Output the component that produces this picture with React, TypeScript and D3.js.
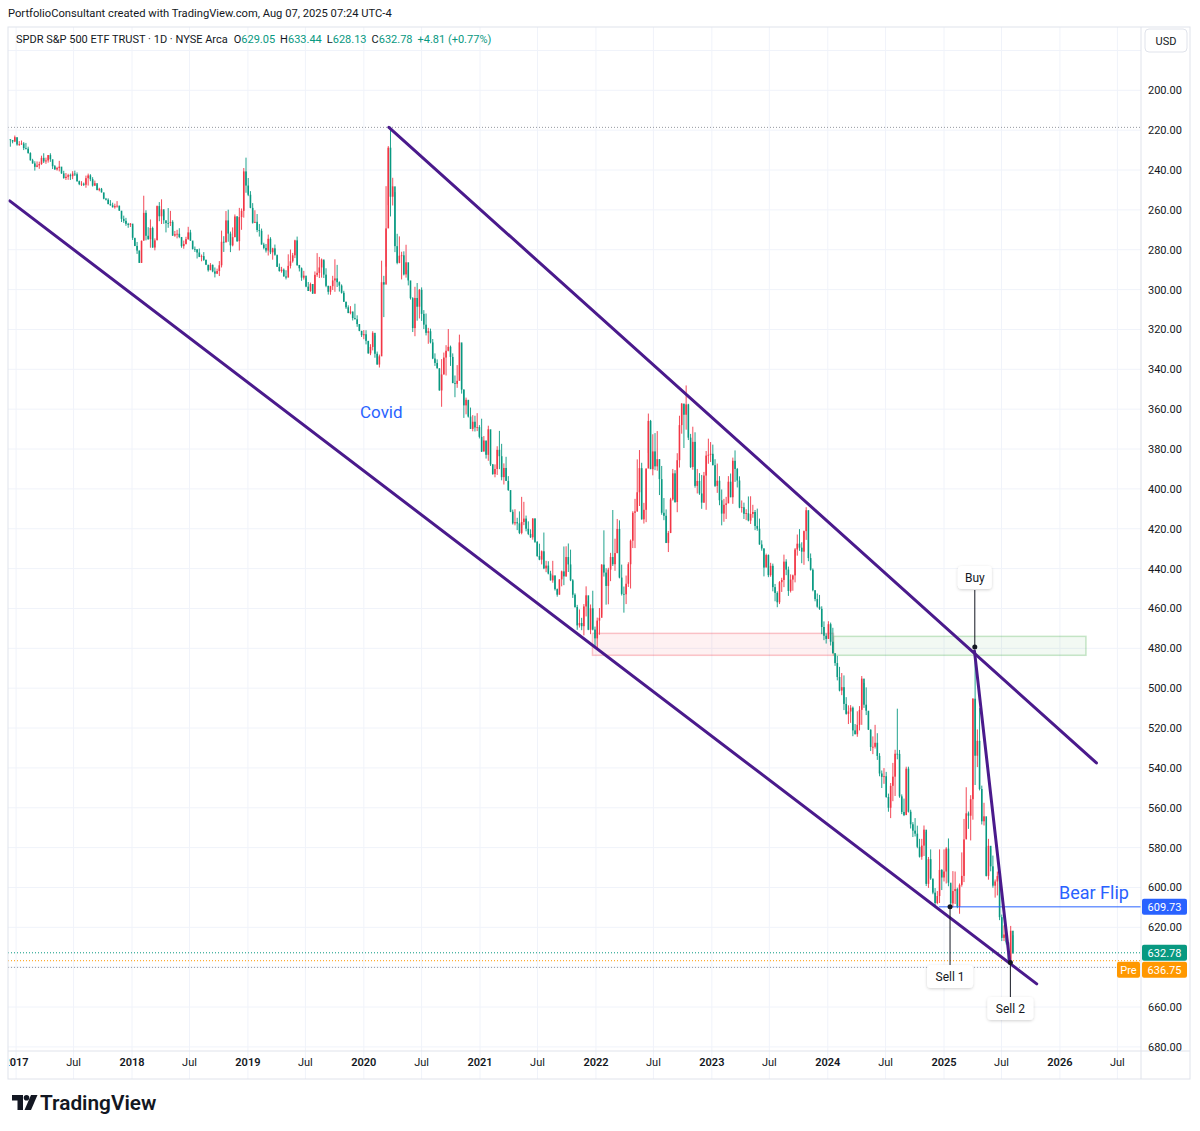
import React from "react";
import * as d3 from "d3";

// SPY weekly candles: [close, high, low]; each open is the prior close
const firstOpen = 224.6;
const weeks2016 = [[225.0, 228.3, 224.6], [225.7, 226.6, 224.9], [223.5, 226.0, 222.7]];
const weeks2017 = [
  [227.2, 227.8, 223.9], [227.0, 227.9, 225.5], [226.7, 227.4, 225.2], [229.0, 230.0, 226.0],
  [229.3, 229.7, 226.4], [231.5, 231.8, 228.3], [235.1, 235.3, 231.1], [236.7, 236.8, 234.4],
  [238.4, 240.3, 235.6], [237.7, 238.6, 235.7], [237.0, 239.4, 235.8], [233.9, 237.4, 232.8], [235.7, 236.5, 231.6],
  [235.2, 236.9, 233.8], [232.5, 236.3, 232.5], [234.6, 235.9, 231.6], [238.1, 239.5, 236.8],
  [239.7, 239.9, 237.5], [239.0, 240.3, 238.4], [238.3, 240.7, 235.4], [241.7, 241.9, 238.9],
  [244.0, 244.4, 240.4], [243.4, 245.0, 241.5], [242.6, 244.9, 241.9], [243.1, 245.0, 241.8], [241.8, 244.6, 240.6],
  [242.1, 243.0, 240.3], [245.6, 245.9, 241.2], [247.1, 247.6, 245.3], [246.9, 248.0, 245.6],
  [247.4, 248.0, 246.3], [244.1, 248.9, 242.8], [242.7, 247.8, 241.8], [244.6, 245.6, 242.1],
  [247.8, 248.3, 243.6], [246.6, 248.0, 245.3], [250.1, 250.1, 247.6], [249.4, 250.7, 248.9], [251.2, 251.3, 249.0],
  [254.4, 254.7, 251.6], [254.9, 255.3, 254.0], [257.1, 257.2, 254.2], [257.7, 257.9, 255.1],
  [258.7, 258.8, 256.4], [258.1, 259.4, 256.9], [257.9, 258.9, 255.6], [260.4, 260.5, 257.9],
  [264.5, 266.1, 260.6], [265.5, 266.5, 262.9], [267.0, 268.0, 264.0], [267.5, 269.0, 266.5], [266.9, 268.6, 266.6],
];
const weeks2018 = [
  [274.0, 275.1, 267.9], [278.1, 278.2, 274.4], [280.4, 282.1, 276.1], [286.6, 286.6, 280.4],
  [275.5, 286.6, 275.4], [261.5, 275.0, 252.9], [273.0, 275.3, 260.2], [274.7, 275.0, 268.7],
  [269.1, 279.0, 264.8], [278.9, 279.0, 268.4], [275.3, 280.3, 274.3], [258.1, 275.1, 257.8], [263.2, 265.7, 256.1],
  [259.7, 267.1, 254.7], [265.2, 267.0, 260.6], [266.6, 271.3, 265.9], [266.6, 269.0, 259.1],
  [266.0, 268.1, 260.5], [272.9, 273.1, 265.2], [272.2, 273.5, 270.6], [272.0, 274.3, 270.0],
  [273.6, 274.2, 269.2], [278.2, 279.0, 273.9], [277.1, 279.5, 275.4], [274.7, 277.4, 273.5], [271.3, 275.0, 268.5],
  [275.4, 275.6, 270.0], [279.6, 279.9, 276.1], [279.7, 281.1, 278.4], [281.4, 284.4, 280.1],
  [283.6, 283.7, 279.4], [283.2, 285.8, 282.4], [285.1, 285.6, 281.2], [287.5, 287.7, 284.9], [290.3, 291.0, 288.0],
  [287.6, 290.2, 286.7], [290.9, 291.3, 287.4], [292.0, 293.9, 288.9], [290.7, 292.2, 289.5],
  [287.8, 293.2, 285.7], [276.0, 288.9, 270.4], [276.3, 281.1, 273.2], [265.3, 276.3, 260.6],
  [271.9, 276.0, 259.9], [277.8, 281.2, 270.9], [273.7, 278.3, 268.8], [263.3, 273.7, 262.3], [275.7, 276.1, 263.1],
  [263.6, 280.4, 259.0], [260.5, 270.0, 259.3], [240.7, 263.9, 239.0], [247.8, 251.4, 233.8],
];
const weeks2019 = [
  [252.4, 253.1, 244.0], [259.0, 259.2, 250.6], [266.5, 266.9, 256.6], [266.0, 266.6, 260.2],
  [270.1, 271.2, 262.1], [270.5, 273.4, 267.1], [277.4, 277.4, 269.4], [279.1, 279.8, 276.5],
  [280.4, 281.4, 277.1], [274.5, 282.9, 272.4], [281.3, 282.2, 273.7], [279.3, 285.0, 279.0], [282.5, 283.0, 277.4],
  [288.6, 288.6, 283.3], [290.7, 291.0, 286.9], [290.0, 291.5, 288.6], [293.4, 293.5, 289.4],
  [294.0, 294.9, 290.3], [288.1, 291.3, 282.3], [285.8, 289.4, 279.9], [282.8, 286.5, 281.6], [275.3, 284.2, 275.0],
  [287.7, 288.1, 273.4], [289.3, 290.9, 287.6], [294.0, 295.6, 288.9], [293.0, 295.0, 290.6],
  [298.5, 298.8, 294.4], [300.7, 300.7, 296.2], [297.2, 301.1, 296.5], [302.0, 302.2, 297.2],
  [292.6, 302.2, 290.9], [291.6, 293.6, 281.7], [288.9, 294.2, 283.6], [284.9, 294.0, 284.4], [292.5, 294.2, 285.6],
  [298.1, 298.8, 289.3], [301.1, 302.5, 298.1], [298.3, 302.6, 298.1], [295.4, 300.2, 293.1],
  [294.4, 301.1, 284.8], [296.3, 298.7, 287.6], [298.0, 301.0, 295.9], [301.6, 302.0, 297.4],
  [306.1, 306.2, 300.6], [308.9, 309.7, 306.1], [311.8, 311.8, 307.9], [311.0, 312.4, 308.3], [314.3, 315.5, 311.1],
  [314.9, 314.9, 307.1], [317.3, 318.7, 312.9], [320.7, 320.9, 317.5], [322.9, 323.8, 320.7],
];
const weeks2020 = [
  [322.4, 324.9, 320.3], [325.7, 327.5, 320.4], [332.0, 332.2, 325.9], [328.8, 332.9, 327.4], [321.7, 330.5, 320.9],
  [332.2, 334.2, 323.0], [337.6, 337.7, 331.1], [333.5, 339.1, 332.6], [296.3, 331.8, 285.5],
  [297.5, 313.8, 293.1], [269.3, 288.5, 248.1], [228.8, 257.6, 228.0], [253.4, 263.3, 218.3],
  [248.2, 257.8, 243.9], [278.2, 281.2, 251.1], [286.6, 287.3, 272.0], [283.0, 286.8, 273.3],
  [282.8, 294.9, 281.0], [292.4, 292.9, 280.8], [286.3, 294.0, 277.5], [295.4, 297.9, 290.2], [304.3, 305.0, 298.9],
  [319.3, 321.3, 303.8], [304.2, 323.4, 298.6], [308.6, 315.6, 296.7], [300.1, 314.5, 299.7],
  [312.2, 315.7, 298.9], [317.6, 319.8, 310.3], [321.7, 323.0, 312.0], [320.9, 327.2, 319.2], [326.5, 327.0, 319.6],
  [334.6, 334.9, 324.8], [336.8, 338.3, 332.0], [339.5, 339.6, 335.0], [350.6, 350.7, 339.5],
  [342.6, 358.8, 334.9], [334.1, 342.6, 331.6], [330.7, 343.1, 327.9], [328.7, 331.0, 319.8],
  [333.8, 338.3, 328.1], [346.9, 347.0, 332.0], [347.3, 354.0, 343.1], [345.8, 349.3, 337.9], [326.5, 342.9, 322.6],
  [350.2, 352.2, 327.2], [358.1, 364.4, 350.0], [355.3, 362.6, 354.2], [363.7, 364.2, 356.0],
  [369.9, 369.9, 359.2], [366.3, 371.1, 363.0], [369.2, 371.2, 363.3], [369.0, 371.0, 362.0],
];
const weeks2021 = [
  [373.9, 374.7, 368.0], [381.3, 381.5, 364.8], [375.7, 381.1, 373.5], [382.9, 384.8, 376.0], [370.1, 385.9, 368.3],
  [387.7, 388.5, 371.9], [392.6, 392.9, 387.5], [390.0, 394.2, 387.7], [380.4, 393.0, 378.6],
  [383.6, 390.1, 370.9], [394.1, 395.7, 377.4], [389.5, 397.8, 387.2], [396.0, 396.0, 383.9],
  [400.6, 401.0, 393.6], [411.5, 411.7, 403.4], [417.3, 417.9, 410.4], [416.7, 418.3, 410.2], [417.3, 420.7, 414.5],
  [422.1, 422.7, 411.3], [416.6, 422.8, 404.0], [414.9, 418.2, 406.5], [420.0, 421.3, 413.4],
  [422.6, 423.2, 416.3], [424.3, 424.6, 420.3], [414.9, 425.5, 414.7], [426.6, 427.1, 414.7],
  [433.7, 434.1, 426.2], [435.5, 435.8, 427.5], [431.3, 437.9, 430.9], [439.9, 440.3, 421.9], [438.5, 441.8, 436.1],
  [442.5, 442.9, 436.3], [445.9, 446.0, 441.1], [443.4, 447.1, 436.1], [450.3, 451.0, 443.6],
  [453.1, 454.1, 450.0], [445.4, 453.0, 445.4], [441.4, 448.9, 441.0], [443.9, 448.3, 428.9],
  [434.2, 444.1, 428.8], [437.9, 441.7, 427.4], [445.9, 446.3, 430.5], [453.1, 454.7, 445.3], [459.3, 459.6, 452.4],
  [468.5, 470.7, 458.2], [467.3, 469.6, 460.5], [468.9, 470.9, 464.7], [459.0, 473.5, 457.8],
  [453.4, 464.0, 448.9], [470.7, 470.9, 456.3], [459.9, 472.9, 458.0], [470.6, 471.0, 451.1], [475.0, 479.0, 469.1],
];
const weeks2022 = [
  [466.1, 480.0, 464.6], [464.7, 473.2, 459.8], [438.0, 463.0, 437.8], [442.0, 444.0, 420.8],
  [448.7, 458.1, 439.8], [440.5, 457.9, 439.6], [434.2, 446.3, 432.1], [437.8, 438.7, 410.6],
  [432.2, 441.1, 425.0], [420.1, 432.3, 415.1], [444.5, 444.9, 415.8], [452.7, 453.5, 438.0],
  [452.9, 462.1, 449.0], [447.6, 457.8, 443.5], [437.8, 449.2, 436.8], [426.0, 450.0, 425.4], [412.0, 429.7, 411.2],
  [411.3, 429.7, 405.0], [401.7, 411.5, 385.2], [389.6, 408.6, 380.5], [415.3, 415.4, 386.9],
  [410.5, 417.4, 407.0], [389.8, 416.7, 389.8], [365.9, 382.0, 362.2], [390.1, 390.1, 365.4],
  [381.2, 393.2, 372.6], [388.7, 390.6, 372.0], [385.1, 390.9, 371.0], [395.1, 403.1, 385.2], [412.0, 413.0, 388.5],
  [413.5, 415.7, 404.6], [427.1, 427.2, 410.3], [422.1, 431.7, 421.1], [405.3, 422.2, 404.5],
  [392.2, 405.9, 390.0], [406.6, 407.0, 390.6], [385.6, 411.7, 382.1], [368.0, 389.3, 363.3], [357.2, 372.3, 357.0],
  [362.8, 379.5, 357.5], [357.6, 370.3, 348.1], [374.3, 375.5, 357.3], [389.0, 389.5, 372.4],
  [376.4, 390.4, 368.8], [398.5, 399.4, 371.6], [396.0, 402.3, 390.0], [402.3, 403.0, 392.1],
  [406.9, 410.0, 393.0], [393.3, 407.0, 391.5], [383.3, 410.5, 381.0], [382.9, 387.4, 374.8], [382.4, 386.5, 376.5],
];
const weeks2023 = [
  [388.1, 388.2, 377.8], [398.5, 399.1, 385.1], [395.9, 402.0, 387.3], [405.7, 408.2, 393.6],
  [412.4, 418.3, 400.3], [408.0, 416.5, 405.0], [407.3, 415.1, 404.0], [396.4, 404.2, 393.6],
  [404.2, 404.2, 392.3], [385.9, 407.5, 384.3], [390.0, 396.5, 380.7], [395.8, 399.3, 389.5], [409.4, 409.7, 393.7],
  [409.2, 411.9, 405.8], [412.5, 415.1, 406.9], [412.2, 415.7, 410.2], [415.9, 416.3, 403.8],
  [412.6, 417.6, 403.7], [411.6, 414.5, 408.0], [418.6, 420.7, 410.6], [420.0, 421.0, 409.9],
  [427.9, 428.0, 414.9], [429.9, 431.0, 425.8], [439.5, 443.9, 429.8], [433.2, 439.1, 432.5], [443.3, 444.3, 432.9],
  [438.6, 444.1, 437.1], [449.3, 451.4, 437.5], [452.2, 456.4, 447.7], [456.9, 459.4, 451.4],
  [446.8, 457.8, 446.3], [445.7, 451.7, 444.6], [436.5, 449.3, 433.0], [440.5, 443.3, 435.3],
  [451.2, 453.7, 439.0], [445.5, 452.0, 442.9], [443.4, 451.1, 443.0], [430.4, 446.9, 429.7], [427.5, 433.5, 422.9],
  [429.5, 431.1, 420.2], [431.5, 437.3, 426.8], [421.2, 438.1, 420.9], [410.7, 425.6, 409.2],
  [434.7, 436.3, 410.9], [440.6, 441.0, 432.4], [450.8, 451.4, 439.9], [455.3, 456.4, 451.0],
  [459.1, 459.6, 452.5], [460.2, 460.7, 453.2], [469.3, 472.9, 458.9], [473.7, 475.9, 466.5], [475.3, 477.6, 472.5],
];
const weeks2024 = [
  [467.9, 474.8, 466.4], [476.7, 478.6, 467.1], [482.4, 482.7, 469.7], [487.4, 488.8, 483.0],
  [494.4, 496.1, 483.8], [501.2, 501.6, 489.3], [499.5, 503.5, 492.4], [507.9, 511.0, 493.6],
  [512.9, 513.3, 504.5], [511.7, 518.0, 508.6], [509.8, 517.4, 508.5], [521.2, 524.1, 509.2], [523.1, 523.2, 518.0],
  [518.4, 524.4, 511.6], [510.9, 521.2, 509.0], [495.2, 518.4, 493.9], [508.3, 509.9, 497.4],
  [511.3, 513.5, 499.6], [520.8, 521.0, 512.1], [529.5, 531.5, 520.7], [529.4, 533.1, 524.2], [527.4, 530.3, 518.4],
  [534.0, 536.0, 522.6], [542.8, 544.2, 532.6], [544.5, 550.1, 541.3], [544.2, 548.0, 540.1],
  [554.6, 555.0, 542.0], [560.0, 562.0, 552.9], [549.0, 565.2, 547.6], [544.4, 556.7, 537.5],
  [532.9, 554.1, 530.9], [533.0, 535.7, 510.3], [554.3, 555.0, 531.0], [562.1, 563.2, 553.3], [563.7, 564.2, 555.4],
  [540.4, 563.0, 539.4], [562.0, 562.4, 539.4], [568.3, 570.4, 561.0], [571.5, 574.7, 567.2],
  [573.0, 574.4, 565.2], [579.6, 580.3, 569.0], [584.6, 585.0, 575.6], [579.0, 586.1, 575.6],
  [571.0, 584.2, 568.9], [598.2, 599.3, 572.2], [585.8, 600.2, 584.7], [595.5, 596.2, 580.9], [602.6, 603.4, 596.0],
  [607.8, 609.1, 600.3], [604.3, 608.4, 601.8], [591.2, 607.8, 580.9], [595.0, 601.3, 590.8],
];
const weeks2025 = [
  [592.0, 597.0, 580.9], [580.5, 598.0, 579.8], [597.6, 599.4, 575.4], [608.0, 610.8, 598.4], [601.8, 610.0, 591.8],
  [600.8, 608.3, 592.0], [609.7, 610.4, 600.1], [598.7, 613.2, 598.0], [594.2, 599.6, 582.4],
  [575.9, 597.3, 565.6], [562.8, 575.3, 549.7], [564.0, 570.6, 561.9], [555.7, 576.4, 553.7],
  [505.3, 566.0, 505.0], [533.9, 548.6, 481.8], [526.4, 539.6, 520.7], [550.6, 551.3, 510.0],
  [566.8, 568.4, 548.9], [564.3, 568.9, 557.5], [594.2, 594.5, 579.8], [579.1, 596.1, 575.6], [589.4, 591.9, 580.6],
  [599.1, 600.1, 584.0], [597.0, 605.1, 596.0], [594.3, 604.0, 592.0], [614.9, 616.4, 594.6],
  [625.3, 626.9, 613.6], [623.6, 626.9, 619.0], [627.6, 628.6, 619.5], [637.1, 637.6, 627.3],
  [621.7, 638.7, 619.3], [632.8, 633.4, 624.0],
];
// first Friday of each block
const blocks: [string, number[][]][] = [
  ["2016-12-16", weeks2016], ["2017-01-06", weeks2017], ["2018-01-05", weeks2018],
  ["2019-01-04", weeks2019], ["2020-01-03", weeks2020], ["2021-01-01", weeks2021],
  ["2022-01-07", weeks2022], ["2023-01-06", weeks2023], ["2024-01-05", weeks2024],
  ["2025-01-03", weeks2025],
];

const priceTicks = [180, 200, 220, 240, 260, 280, 300, 320, 340, 360, 380, 400, 420, 440, 460, 480, 500, 520, 540, 560, 580, 600, 620, 640, 660, 680];
const timeTicks = [
  ["2017-01-01", "2017"], ["2017-07-01", "Jul"], ["2018-01-01", "2018"], ["2018-07-01", "Jul"],
  ["2019-01-01", "2019"], ["2019-07-01", "Jul"], ["2020-01-01", "2020"], ["2020-07-01", "Jul"],
  ["2021-01-01", "2021"], ["2021-07-01", "Jul"], ["2022-01-01", "2022"], ["2022-07-01", "Jul"],
  ["2023-01-01", "2023"], ["2023-07-01", "Jul"], ["2024-01-01", "2024"], ["2024-07-01", "Jul"],
  ["2025-01-01", "2025"], ["2025-07-01", "Jul"], ["2026-01-01", "2026"], ["2026-07-01", "Jul"],
];

// drawings on the chart: [date, price] pairs
const trendLines = [
  [["2016-12-12", 255.5], ["2025-10-20", 648.4]],
  [["2020-03-20", 218.6], ["2026-04-26", 537.5]],
  [["2025-04-07", 481.4], ["2025-07-27", 637.7]],
];
const redZone = { from: "2021-12-21", to: "2024-01-19", top: 472.5, bottom: 483.5 };
const greenZone = { from: "2024-01-19", to: "2026-03-24", top: 474.0, bottom: 483.5 };
const buyPoint = ["2025-04-08", 479.4];
const sell1Point = ["2025-01-20", 609.73];
const sell2Point = ["2025-07-29", 637.6];
const bearFlip = { from: "2024-12-16", price: 609.73 };
const covidLow = 218.6;
const visibleHigh = 640.1;
const lastClose = 632.78;
const preMarket = 636.75;

const UP = "#089981";
const DOWN = "#f23645";
const PURPLE = "#4a1a8c";
const BLUE = "#2962ff";
const TEXT = "#131722";
const GRID = "#f0f3fa";
const FONT = "Roboto, 'Noto Sans', sans-serif";

const PL = 8, PR = 1141, PT = 27, PB = 1051, AR = 1190, AB = 1079;

const parse = d3.timeParse("%Y-%m-%d");
const day = 86400000;

export default function App() {
  const x = d3.scaleTime().domain([parse("2018-01-01")!, parse("2025-01-01")!]).range([132, 944]);
  const y = d3.scaleLinear().domain([200, 680]).range([90.3, 1046.9]);

  const candles: { t: Date; o: number; c: number; h: number; l: number }[] = [];
  let prev = firstOpen;
  blocks.forEach(([start, rows]) => {
    const s = parse(start)!.getTime();
    rows.forEach(([c, h, l], i) => {
      candles.push({ t: new Date(s + i * 7 * day - 2 * day), o: prev, c, h, l });
      prev = c;
    });
  });

  const px = (d: string) => x(parse(d)!);
  const markerYs = [y(bearFlip.price), y(lastClose), y(preMarket) + 8];

  const callout = (cx: number, top: number, label: string, w: number) => (
    <g>
      <rect x={cx - w / 2} y={top} width={w} height={23} rx={4} fill="#fff" filter="url(#shadow)" />
      <text x={cx} y={top + 16} textAnchor="middle" fontSize={12} fill={TEXT}>{label}</text>
    </g>
  );

  const buyX = px(buyPoint[0] as string), buyY = y(buyPoint[1] as number);
  const s1X = px(sell1Point[0] as string), s1Y = y(sell1Point[1] as number);
  const s2X = px(sell2Point[0] as string), s2Y = y(sell2Point[1] as number);

  return (
    <svg width={1200} height={1131} style={{ position: "absolute", left: 0, top: 0, background: "#fff" }} fontFamily={FONT}>
      <defs>
        <clipPath id="plot"><rect x={PL} y={PT} width={PR - PL} height={PB - PT} /></clipPath>
        <clipPath id="taxis"><rect x={PL + 1} y={PB} width={PR - PL - 1} height={AB - PB} /></clipPath>
        <filter id="shadow" x="-30%" y="-30%" width="160%" height="180%">
          <feDropShadow dx="0" dy="1" stdDeviation="1.5" floodColor="#000" floodOpacity="0.18" />
        </filter>
      </defs>
      <rect width={1200} height={1131} fill="#fff" />
      <text x={8} y={17} fontSize={11.2} fill={TEXT}>PortfolioConsultant created with TradingView.com, Aug 07, 2025 07:24 UTC-4</text>

      {/* grid */}
      <g clipPath="url(#plot)">
        {priceTicks.map((p) => (
          <line key={p} x1={PL} x2={PR} y1={y(p)} y2={y(p)} stroke={GRID} />
        ))}
        {timeTicks.map(([d]) => (
          <line key={d} x1={px(d)} x2={px(d)} y1={PT} y2={PB} stroke={GRID} />
        ))}
      </g>
      {timeTicks.map(([d]) => (
        <line key={"t" + d} x1={px(d)} x2={px(d)} y1={PB} y2={AB} stroke={GRID} clipPath="url(#taxis)" />
      ))}

      <g clipPath="url(#plot)">
        {/* zones */}
        <rect x={px(redZone.from)} y={y(redZone.top)} width={px(redZone.to) - px(redZone.from)}
          height={y(redZone.bottom) - y(redZone.top)} fill="rgba(242,54,69,0.07)" stroke="rgba(242,54,69,0.28)" strokeWidth={1.5} />
        <rect x={px(greenZone.from)} y={y(greenZone.top)} width={px(greenZone.to) - px(greenZone.from)}
          height={y(greenZone.bottom) - y(greenZone.top)} fill="rgba(76,175,80,0.07)" stroke="rgba(76,175,80,0.3)" strokeWidth={1.5} />

        {/* dotted price lines */}
        <line x1={PL} x2={PR} y1={y(covidLow)} y2={y(covidLow)} stroke="#9598a1" strokeDasharray="1 2" />
        <line x1={PL} x2={PR} y1={y(visibleHigh)} y2={y(visibleHigh)} stroke="#9598a1" strokeDasharray="1 2" />
        <line x1={PL} x2={PR} y1={y(lastClose)} y2={y(lastClose)} stroke={UP} strokeDasharray="1 2" />
        <line x1={PL} x2={PR} y1={y(preMarket)} y2={y(preMarket)} stroke="#ff9800" strokeDasharray="1 2" />

        {/* candles */}
        {candles.map((k, i) => {
          const cx = x(k.t);
          const col = k.c >= k.o ? UP : DOWN;
          const y0 = y(Math.min(k.o, k.c)), y1 = y(Math.max(k.o, k.c));
          return (
            <g key={i}>
              <line x1={cx} x2={cx} y1={y(k.l)} y2={y(k.h)} stroke={col} strokeWidth={0.9} />
              <rect x={cx - 0.8} y={y0} width={1.6} height={Math.max(0.8, y1 - y0)} fill={col} />
            </g>
          );
        })}

        {/* bear flip line */}
        <line x1={px(bearFlip.from)} x2={PR} y1={y(bearFlip.price)} y2={y(bearFlip.price)} stroke={BLUE} strokeWidth={1} />

        {/* trend lines */}
        {trendLines.map((ln, i) => (
          <line key={i} x1={px(ln[0][0] as string)} y1={y(ln[0][1] as number)} x2={px(ln[1][0] as string)} y2={y(ln[1][1] as number)}
            stroke={PURPLE} strokeWidth={3} strokeLinecap="round" />
        ))}

        {/* callouts */}
        <line x1={buyX} x2={buyX} y1={buyY} y2={590} stroke={TEXT} />
        <circle cx={buyX} cy={buyY} r={2.5} fill={TEXT} />
        {callout(buyX, 566, "Buy", 34)}
        <line x1={s1X} x2={s1X} y1={s1Y} y2={966} stroke={TEXT} />
        <circle cx={s1X} cy={s1Y} r={2.5} fill={TEXT} />
        {callout(s1X, 965, "Sell 1", 46)}
        <line x1={s2X} x2={s2X} y1={s2Y} y2={998} stroke={TEXT} />
        <circle cx={s2X} cy={s2Y} r={2.5} fill={TEXT} />
        {callout(s2X, 997, "Sell 2", 46)}

        <text x={360} y={418} fontSize={17} fill={BLUE}>Covid</text>
        <text x={1059} y={899} fontSize={18} fill={BLUE}>Bear Flip</text>
      </g>

      {/* legend */}
      <text x={16} y={43} fontSize={11} fill={TEXT}>
        <tspan>SPDR S&amp;P 500 ETF TRUST · 1D · NYSE Arca</tspan>
        <tspan dx={6}>O</tspan><tspan fill={UP}>629.05</tspan>
        <tspan dx={5}>H</tspan><tspan fill={UP}>633.44</tspan>
        <tspan dx={5}>L</tspan><tspan fill={UP}>628.13</tspan>
        <tspan dx={5}>C</tspan><tspan fill={UP}>632.78</tspan>
        <tspan dx={5} fill={UP}>+4.81 (+0.77%)</tspan>
      </text>

      {/* frame */}
      <rect x={PL} y={PT} width={AR - PL} height={AB - PT} fill="none" stroke="#e0e3eb" />
      <line x1={PR} x2={PR} y1={PT} y2={AB} stroke="#e0e3eb" />
      <line x1={PL} x2={AR} y1={PB} y2={PB} stroke="#e0e3eb" />

      {/* price axis */}
      {priceTicks
        .filter((p) => y(p) > 60 && markerYs.every((m) => Math.abs(m - y(p)) > 13))
        .map((p) => (
          <text key={p} x={1148} y={y(p) + 4} fontSize={11} fill={TEXT}>{p.toFixed(2)}</text>
        ))}
      <rect x={1145} y={29} width={42} height={23} rx={4} fill="#fff" stroke="#e0e3eb" />
      <text x={1166} y={45} textAnchor="middle" fontSize={11} fill={TEXT}>USD</text>

      <rect x={1142} y={y(bearFlip.price) - 8} width={45} height={16} rx={2} fill={BLUE} />
      <text x={1164.5} y={y(bearFlip.price) + 4} textAnchor="middle" fontSize={11} fill="#fff">{bearFlip.price.toFixed(2)}</text>
      <rect x={1142} y={y(lastClose) - 8} width={45} height={16} rx={2} fill={UP} />
      <text x={1164.5} y={y(lastClose) + 4} textAnchor="middle" fontSize={11} fill="#fff">{lastClose.toFixed(2)}</text>
      <rect x={1142} y={y(preMarket) + 1} width={45} height={16} rx={2} fill="#ff9800" />
      <text x={1164.5} y={y(preMarket) + 13} textAnchor="middle" fontSize={11} fill="#fff">{preMarket.toFixed(2)}</text>
      <rect x={1117} y={y(preMarket) + 1} width={23} height={16} rx={2} fill="#ff9800" />
      <text x={1128.5} y={y(preMarket) + 13} textAnchor="middle" fontSize={11} fill="#fff">Pre</text>

      {/* time axis */}
      <g clipPath="url(#taxis)">
        {timeTicks.map(([d, lab]) => (
          <text key={d} x={px(d)} y={1066} textAnchor="middle" fontSize={11} fill={TEXT}
            fontWeight={lab === "Jul" ? 400 : 600}>{lab}</text>
        ))}
      </g>

      {/* logo */}
      <path d="M12 1095 h11 v15 h-5.5 v-9.5 h-5.5 z" fill={TEXT} />
      <circle cx={26.5} cy={1097.8} r={2.8} fill={TEXT} />
      <path d="M31 1095 h6.5 l-6.5 15 h-6.5 z" fill={TEXT} />
      <text x={40} y={1110} fontSize={20.8} fontWeight={600} fill={TEXT}>TradingView</text>
    </svg>
  );
}
